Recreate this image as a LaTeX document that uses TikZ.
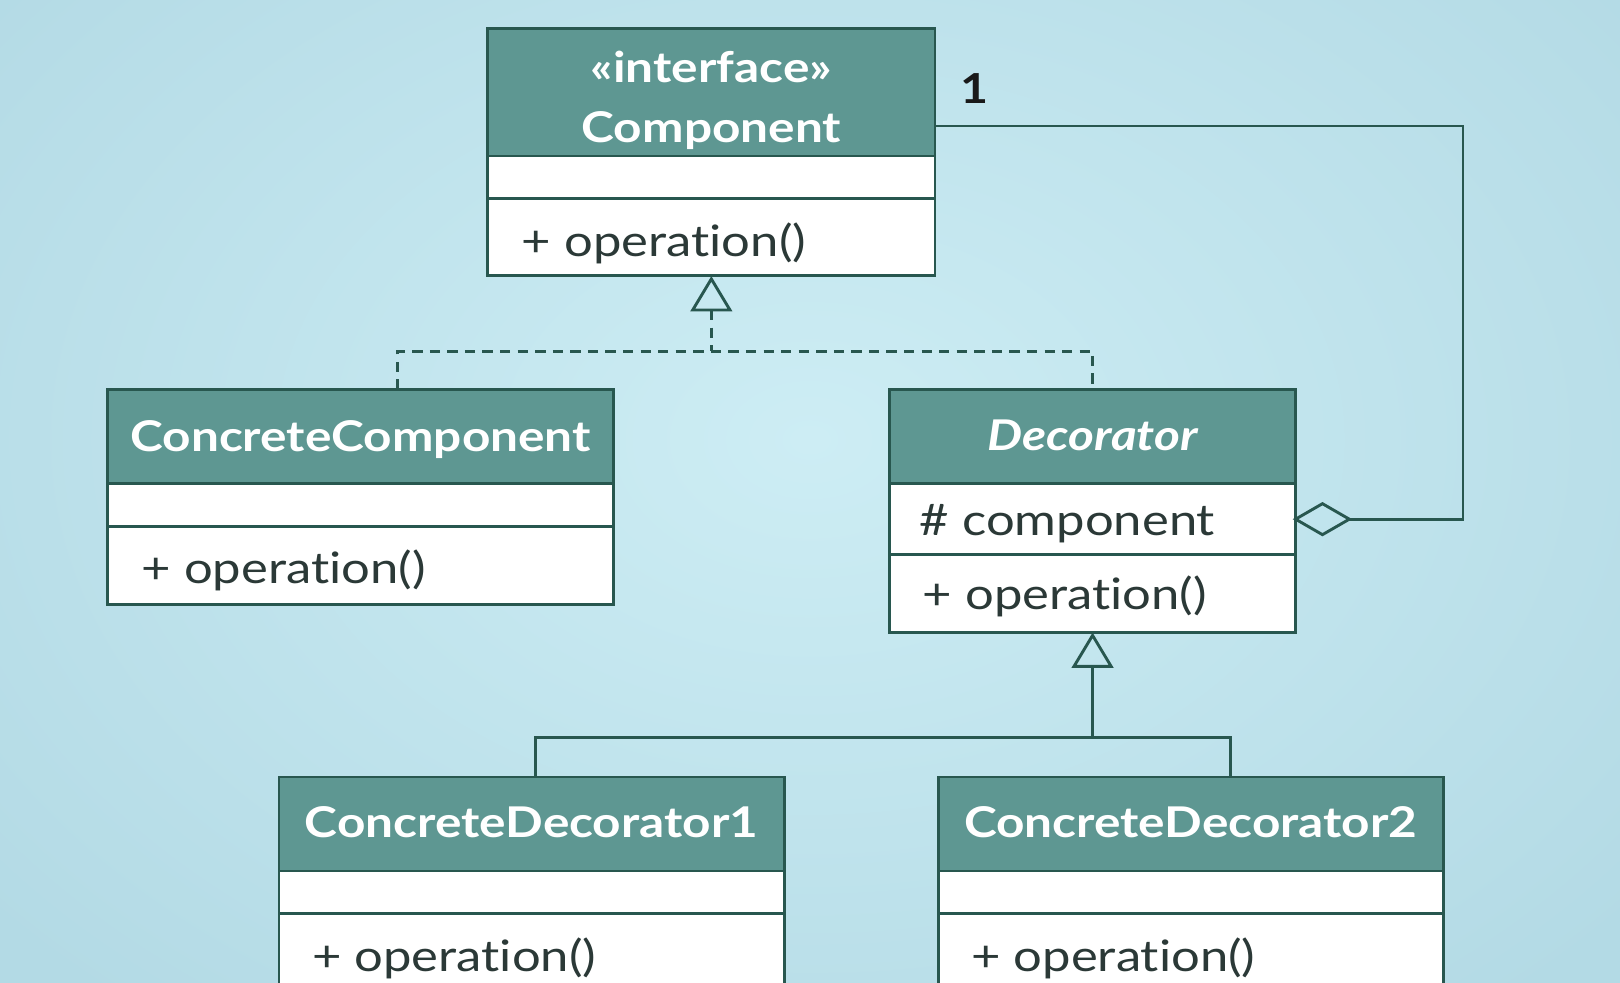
\documentclass[tikz,border=0pt]{standalone}
\usepackage{fontspec}
\setmainfont{Lato}[FakeStretch=1.17, Ligatures=NoCommon]
\usetikzlibrary{calc}
\definecolor{bgc}{HTML}{CDEDF4}
\definecolor{bgo}{HTML}{B3DAE5}
\definecolor{hdrc}{HTML}{5E9792}
\definecolor{brd}{HTML}{28574F}
\definecolor{txt}{HTML}{2B3937}
\begin{document}
\begin{tikzpicture}[x=1pt,y=-1pt,
  hdr/.style={draw=brd, line width=2.8pt, fill=hdrc, anchor=north west, inner sep=0pt, outer sep=0pt},
  bdy/.style={draw=brd, line width=2.8pt, fill=white, anchor=north west, inner sep=0pt, outer sep=0pt},
  htxt/.style={anchor=base, text=white, inner sep=0pt, font=\fontsize{41}{44}\selectfont\bfseries},
  lbl/.style={anchor=base west, text=txt, inner sep=0pt, font=\fontsize{42}{44}\selectfont},
  conn/.style={draw=brd, line width=2.8pt, line join=miter},
  dsh/.style={conn, dash pattern=on 10pt off 7pt}]
\useasboundingbox (0,0) rectangle (1568,951);
\shade[inner color=bgc, outer color=bgo] (-250,-300) rectangle (1818,1151);
\begin{scope}
\clip (0,0) rectangle (1568,951);
% Component
\node[hdr, minimum width=433pt, minimum height=123pt] (compH) at (472,28) {};
\node[bdy, minimum width=433pt, minimum height=41pt] (compA) at (compH.south west) {};
\node[bdy, minimum width=433pt, minimum height=75pt] (compO) at (compA.south west) {};
\node[htxt] (compS) at (688.5,80) {«interface»};
\node[htxt] (compN) at (688.5,138) {Component};
\node[lbl] (compOp) at (505,248) {+ operation()};
% ConcreteComponent
\node[hdr, minimum width=490pt, minimum height=91pt] (ccH) at (104,377) {};
\node[bdy, minimum width=490pt, minimum height=42pt] (ccA) at (ccH.south west) {};
\node[bdy, minimum width=490pt, minimum height=75pt] (ccO) at (ccA.south west) {};
\node[htxt] (ccN) at (349,437) {ConcreteComponent};
\node[lbl] (ccOp) at (137,565) {+ operation()};
% Decorator
\node[hdr, minimum width=393pt, minimum height=91pt] (decH) at (861,377) {};
\node[bdy, minimum width=393pt, minimum height=69pt] (decA) at (decH.south west) {};
\node[bdy, minimum width=393pt, minimum height=75pt] (decO) at (decA.south west) {};
\node[htxt, font=\fontsize{41}{44}\selectfont\bfseries\itshape] (decN) at (1057.5,436) {Decorator};
\node[lbl] (decAt) at (890,518) {\# component};
\node[lbl] (decOp) at (893,590) {+ operation()};
% ConcreteDecorator1
\node[hdr, minimum width=489pt, minimum height=91pt] (cd1H) at (270,752) {};
\node[bdy, minimum width=489pt, minimum height=41pt] (cd1A) at (cd1H.south west) {};
\node[bdy, minimum width=489pt, minimum height=110pt] (cd1O) at (cd1A.south west) {};
\node[htxt] (cd1N) at (514.5,811) {ConcreteDecorator1};
\node[lbl] (cd1Op) at (302,940) {+ operation()};
% ConcreteDecorator2
\node[hdr, minimum width=489pt, minimum height=91pt] (cd2H) at (908,752) {};
\node[bdy, minimum width=489pt, minimum height=41pt] (cd2A) at (cd2H.south west) {};
\node[bdy, minimum width=489pt, minimum height=110pt] (cd2O) at (cd2A.south west) {};
\node[htxt] (cd2N) at (1152.5,811) {ConcreteDecorator2};
\node[lbl] (cd2Op) at (940,940) {+ operation()};
\end{scope}
% realization
\coordinate (t1) at ($(compO.south)+(0,3)$);
\coordinate (t1b) at ($(t1)+(0,30)$);
\coordinate (jn) at (688.5,340);
\coordinate (ccTop) at ([xshift=281pt]ccH.north west);
\draw[conn] (t1) -- ++(-18,30) -- ++(36,0) -- cycle;
\draw[dsh] (t1b) -- (jn);
\draw[dsh] (ccTop) |- (decH.north |- jn) -- (decH.north);
% generalization
\coordinate (t2) at ($(decO.south)+(0,3)$);
\coordinate (t2b) at ($(t2)+(0,30)$);
\coordinate (jn2) at (1057.5,714);
\coordinate (cd1Top) at ([xshift=248pt]cd1H.north west);
\coordinate (cd2Top) at ([xshift=283pt]cd2H.north west);
\draw[conn] (t2) -- ++(-18,30) -- ++(36,0) -- cycle;
\draw[conn] (t2b) -- (jn2);
\draw[conn] (cd1Top) |- (cd2Top |- jn2) -- (cd2Top);
% aggregation
\coordinate (aggA) at ([yshift=-32.5pt]compH.east);
\coordinate (dL) at (decA.east);
\coordinate (dR) at ($(dL)+(52,0)$);
\coordinate (rc) at ($(dR)+(110,0)$);
\draw[conn] (dL) -- ++(26,-15) -- (dR) -- ++(-26,15) -- cycle;
\draw[conn] (aggA) -| (rc) -- (dR);
\node[anchor=base, inner sep=0pt, text=black!90, font=\fontsize{40}{44}\selectfont\bfseries] (mult) at (943,100) {1};
\end{tikzpicture}
\end{document}
